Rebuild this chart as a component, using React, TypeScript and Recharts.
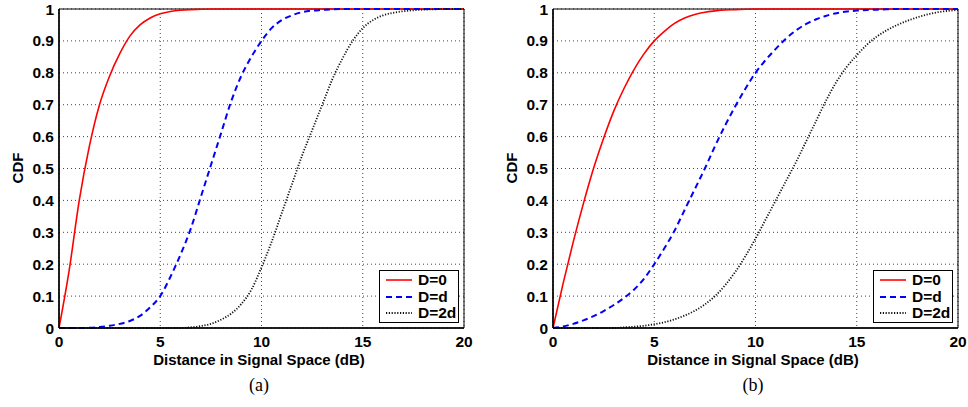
import React from 'react';
import {
  LineChart, Line, XAxis, YAxis, CartesianGrid, Legend, ReferenceArea
} from 'recharts';

// distance in signal space (dB), sampled every 0.5 dB
const XS = [
  0, 0.5, 1, 1.5, 2, 2.5, 3, 3.5, 4, 4.5, 5, 5.5, 6, 6.5, 7, 7.5, 8, 8.5, 9, 9.5, 10,
  10.5, 11, 11.5, 12, 12.5, 13, 13.5, 14, 14.5, 15, 15.5, 16, 16.5, 17, 17.5, 18, 18.5, 19, 19.5, 20,
];

// panel (a)
const A_D0 = [
  0, 0.18, 0.4, 0.57, 0.7, 0.79, 0.86, 0.915, 0.95, 0.972, 0.985, 0.992, 0.996, 0.998, 0.999,
  1, 1, 1, 1, 1, 1, 1, 1, 1, 1, 1, 1, 1, 1, 1, 1, 1, 1, 1, 1, 1, 1, 1, 1, 1, 1,
];
const A_DD = [
  0, 0, 0, 0.001, 0.003, 0.007, 0.013, 0.022, 0.038, 0.065, 0.1, 0.16, 0.23, 0.31, 0.41,
  0.51, 0.61, 0.71, 0.79, 0.85, 0.9, 0.94, 0.965, 0.98, 0.99, 0.995, 0.997, 0.999, 1,
  1, 1, 1, 1, 1, 1, 1, 1, 1, 1, 1, 1,
];
const A_D2D = [
  0, 0, 0, 0, 0, 0, 0, 0, 0, 0, 0, 0, 0, 0.002, 0.006, 0.013, 0.026, 0.045, 0.075, 0.12, 0.19,
  0.27, 0.36, 0.45, 0.54, 0.62, 0.7, 0.78, 0.845, 0.9, 0.94, 0.965, 0.98, 0.988, 0.993, 0.996,
  0.998, 0.999, 1, 1, 1,
];

// panel (b)
const B_D0 = [
  0, 0.14, 0.27, 0.39, 0.5, 0.595, 0.68, 0.75, 0.81, 0.86, 0.9, 0.93, 0.955, 0.972, 0.983, 0.99,
  0.994, 0.997, 0.998, 0.999, 1, 1, 1, 1, 1, 1, 1, 1, 1, 1, 1, 1, 1, 1, 1, 1, 1, 1, 1, 1, 1,
];
const B_DD = [
  0, 0.005, 0.013, 0.024, 0.037, 0.053, 0.072, 0.094, 0.12, 0.155, 0.2, 0.25, 0.305, 0.37, 0.435,
  0.5, 0.57, 0.635, 0.695, 0.75, 0.8, 0.84, 0.875, 0.907, 0.933, 0.953, 0.968, 0.979, 0.987,
  0.992, 0.995, 0.997, 0.998, 0.999, 1, 1, 1, 1, 1, 1, 1,
];
const B_D2D = [
  0, 0, 0, 0, 0, 0, 0, 0.002, 0.004, 0.007, 0.012, 0.018, 0.027, 0.039, 0.054, 0.074, 0.1, 0.134,
  0.176, 0.225, 0.28, 0.34, 0.4, 0.46, 0.52, 0.585, 0.65, 0.715, 0.772, 0.818, 0.855, 0.888, 0.914,
  0.934, 0.95, 0.963, 0.974, 0.983, 0.99, 0.994, 0.997,
];

const X_TICKS = [0, 5, 10, 15, 20];
const Y_TICKS = [0, 0.1, 0.2, 0.3, 0.4, 0.5, 0.6, 0.7, 0.8, 0.9, 1];

const SERIES = [
  { key: 'd0', name: 'D=0', color: '#ff0000', dash: undefined, width: 1.6 },
  { key: 'dd', name: 'D=d', color: '#0000ff', dash: '6 4', width: 2 },
  { key: 'd2d', name: 'D=2d', color: '#111111', dash: '1.2 1.6', width: 1.8 },
];

const FONT = '"Liberation Sans", Arial, Helvetica, sans-serif';

const rows = (d0: number[], dd: number[], d2d: number[]) =>
  XS.map((x, i) => ({ x, d0: d0[i], dd: dd[i], d2d: d2d[i] }));

const LegendBox = () => (
  <div style={{
    border: '1.2px solid #000', background: '#fff', width: 80, height: 53, boxSizing: 'border-box',
    fontFamily: FONT, fontWeight: 'bold', fontSize: 15.5, color: '#000', paddingTop: 1,
  }}>
    {SERIES.map(s => (
      <div key={s.key} style={{ display: 'flex', alignItems: 'center', height: 16.5 }}>
        <svg width={34} height={10} style={{ marginLeft: 4 }}>
          <line x1={2} y1={5} x2={28} y2={5} stroke={s.color} strokeWidth={s.width}
            strokeDasharray={s.dash} />
        </svg>
        <span style={{ lineHeight: '16px' }}>{s.name}</span>
      </div>
    ))}
  </div>
);

const Panel = ({ data, left, tag }: { data: any[]; left: number; tag: string }) => (
  <div style={{ position: 'absolute', left, top: 0, width: 484, height: 407 }}>
    <LineChart width={484} height={407} data={data}
      margin={{ top: 9, right: 20, bottom: 49, left: 0 }}>
      <CartesianGrid stroke="#444" strokeDasharray="1 3" />
      <XAxis dataKey="x" type="number" domain={[0, 20]} ticks={X_TICKS} height={30}
        axisLine={{ stroke: '#000', strokeWidth: 1.5 }} tickLine={false}
        tick={{ fill: '#000', fontSize: 15.5, fontWeight: 'bold', fontFamily: FONT }} />
      <YAxis type="number" domain={[0, 1]} ticks={Y_TICKS} width={59} tickSize={3} tickMargin={2}
        axisLine={{ stroke: '#000', strokeWidth: 1.5 }} tickLine={false}
        tick={{ fill: '#000', fontSize: 15.5, fontWeight: 'bold', fontFamily: FONT }} />
      <ReferenceArea x1={0} x2={20} y1={0} y2={1} fill="none" fillOpacity={0}
        stroke="#000" strokeWidth={1} />
      {SERIES.map(s => (
        <Line key={s.key} dataKey={s.key} name={s.name} type="monotone" stroke={s.color}
          strokeWidth={s.width} strokeDasharray={s.dash} dot={false} isAnimationActive={false} />
      ))}
      <Legend layout="vertical" align="center" verticalAlign="middle"
        wrapperStyle={{ left: 379, top: 270, width: 80, height: 53 }}
        content={() => <LegendBox />} />
    </LineChart>
    <div style={{
      position: 'absolute', left: 18 - 30, top: 168 - 8, width: 60, height: 16, textAlign: 'center',
      transform: 'rotate(-90deg)', fontFamily: FONT, fontWeight: 'bold', fontSize: 15, lineHeight: '16px',
    }}>CDF</div>
    <div style={{
      position: 'absolute', left: 59, width: 400, top: 352, textAlign: 'center',
      fontFamily: FONT, fontWeight: 'bold', fontSize: 15, lineHeight: '15px',
    }}>Distance in Signal Space (dB)</div>
    <div style={{
      position: 'absolute', left: 59, width: 400, top: 376, textAlign: 'center',
      fontFamily: '"Liberation Serif", "Times New Roman", serif', fontSize: 18, lineHeight: '18px',
    }}>{tag}</div>
  </div>
);

export default function App() {
  return (
    <div style={{ position: 'absolute', left: 0, top: 0, width: 968, height: 407, background: '#fff' }}>
      <Panel data={rows(A_D0, A_DD, A_D2D)} left={0} tag="(a)" />
      <Panel data={rows(B_D0, B_DD, B_D2D)} left={494} tag="(b)" />
    </div>
  );
}
